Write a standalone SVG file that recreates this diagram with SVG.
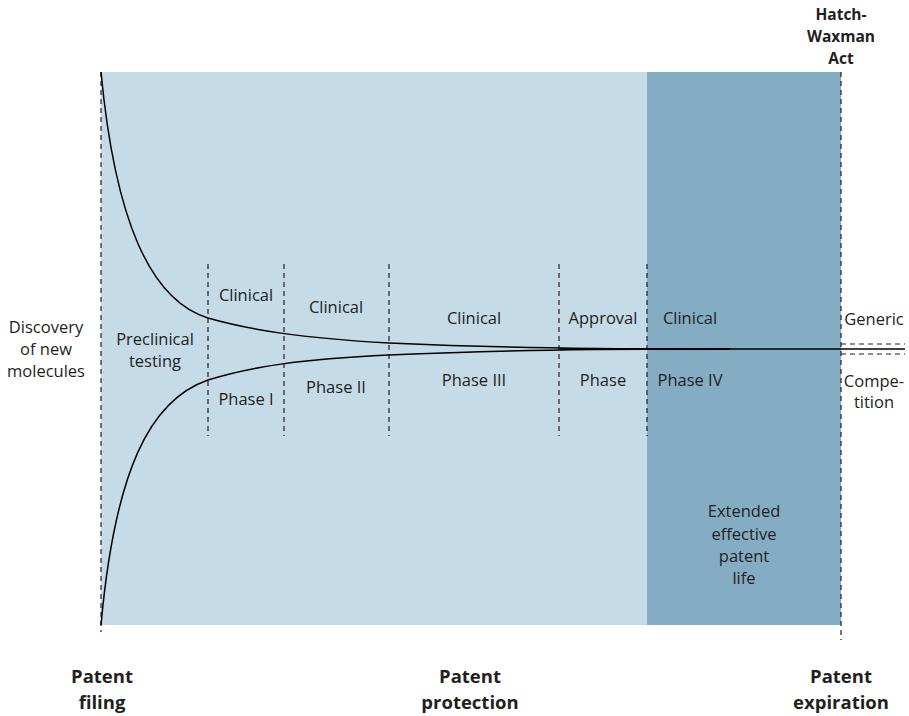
<svg xmlns="http://www.w3.org/2000/svg" width="909" height="716" viewBox="0 0 909 716">
<style>
.t{font-family:"Open Sans","Liberation Sans",sans-serif;font-size:16.5px;fill:#231f20;text-anchor:middle}
.b{font-family:"Open Sans","Liberation Sans",sans-serif;font-size:18.5px;font-weight:bold;fill:#231f20;text-anchor:middle}
.h{font-family:"Open Sans","Liberation Sans",sans-serif;font-size:15.5px;font-weight:bold;fill:#231f20;text-anchor:middle}
.d{stroke:#231f20;stroke-width:1.2;stroke-dasharray:5,4;fill:none}
.c{stroke:#000;stroke-width:1.5;fill:none}
</style>
<rect width="909" height="716" fill="#fff"/>
<g id="protection-area"><rect x="101" y="72" width="546" height="553" fill="#c5dbe8"/></g>
<g id="extension-area"><rect x="647" y="72" width="194" height="553" fill="#84adc4"/></g>
<g id="connectors">
<line class="d" x1="101" y1="72" x2="101" y2="632"/>
<line class="d" x1="841" y1="72" x2="841" y2="640"/>
<line class="d" x1="208" y1="264" x2="208" y2="436"/>
<line class="d" x1="284" y1="264" x2="284" y2="436"/>
<line class="d" x1="389" y1="264" x2="389" y2="436"/>
<line class="d" x1="559" y1="264" x2="559" y2="436"/>
<line class="d" x1="647" y1="264" x2="647" y2="436"/>
<line class="d" x1="841" y1="344" x2="905" y2="344"/>
<line class="d" x1="841" y1="354" x2="905" y2="354"/>
<path class="c" d="M101,72 C115,220 150,300 208,318 C250,330 300,338 389,343 C480,347 560,349 730,349"/>
<path class="c" d="M101,625 C115,470 150,400 208,380 C250,367 300,359 389,355 C480,351 560,349 730,349"/>
<line class="c" x1="560" y1="349" x2="905" y2="349"/>
</g>
<g id="discovery"><text class="t" x="46" y="333">Discovery</text><text class="t" x="46" y="355">of new</text><text class="t" x="46" y="377">molecules</text></g>
<g id="preclinical"><text class="t" x="155" y="345">Preclinical</text><text class="t" x="155" y="367">testing</text></g>
<g id="phase1"><text class="t" x="246" y="301">Clinical</text><text class="t" x="246" y="405">Phase I</text></g>
<g id="phase2"><text class="t" x="336" y="313">Clinical</text><text class="t" x="336" y="393">Phase II</text></g>
<g id="phase3"><text class="t" x="474" y="324">Clinical</text><text class="t" x="474" y="386">Phase III</text></g>
<g id="approval"><text class="t" x="603" y="324">Approval</text><text class="t" x="603" y="386">Phase</text></g>
<g id="phase4"><text class="t" x="690" y="324">Clinical</text><text class="t" x="690" y="386">Phase IV</text></g>
<g id="generic"><text class="t" x="874" y="325">Generic</text><text class="t" x="874" y="387">Compe-</text><text class="t" x="874" y="408">tition</text></g>
<g id="extended"><text class="t" x="744" y="517">Extended</text><text class="t" x="744" y="540">effective</text><text class="t" x="744" y="562">patent</text><text class="t" x="744" y="584">life</text></g>
<g id="hatch"><text class="h" x="841" y="20">Hatch-</text><text class="h" x="841" y="42">Waxman</text><text class="h" x="841" y="64">Act</text></g>
<g id="filing"><text class="b" x="102" y="683">Patent</text><text class="b" x="102" y="709">filing</text></g>
<g id="protection"><text class="b" x="470" y="683">Patent</text><text class="b" x="470" y="709">protection</text></g>
<g id="expiration"><text class="b" x="841" y="683">Patent</text><text class="b" x="841" y="709">expiration</text></g>
</svg>
